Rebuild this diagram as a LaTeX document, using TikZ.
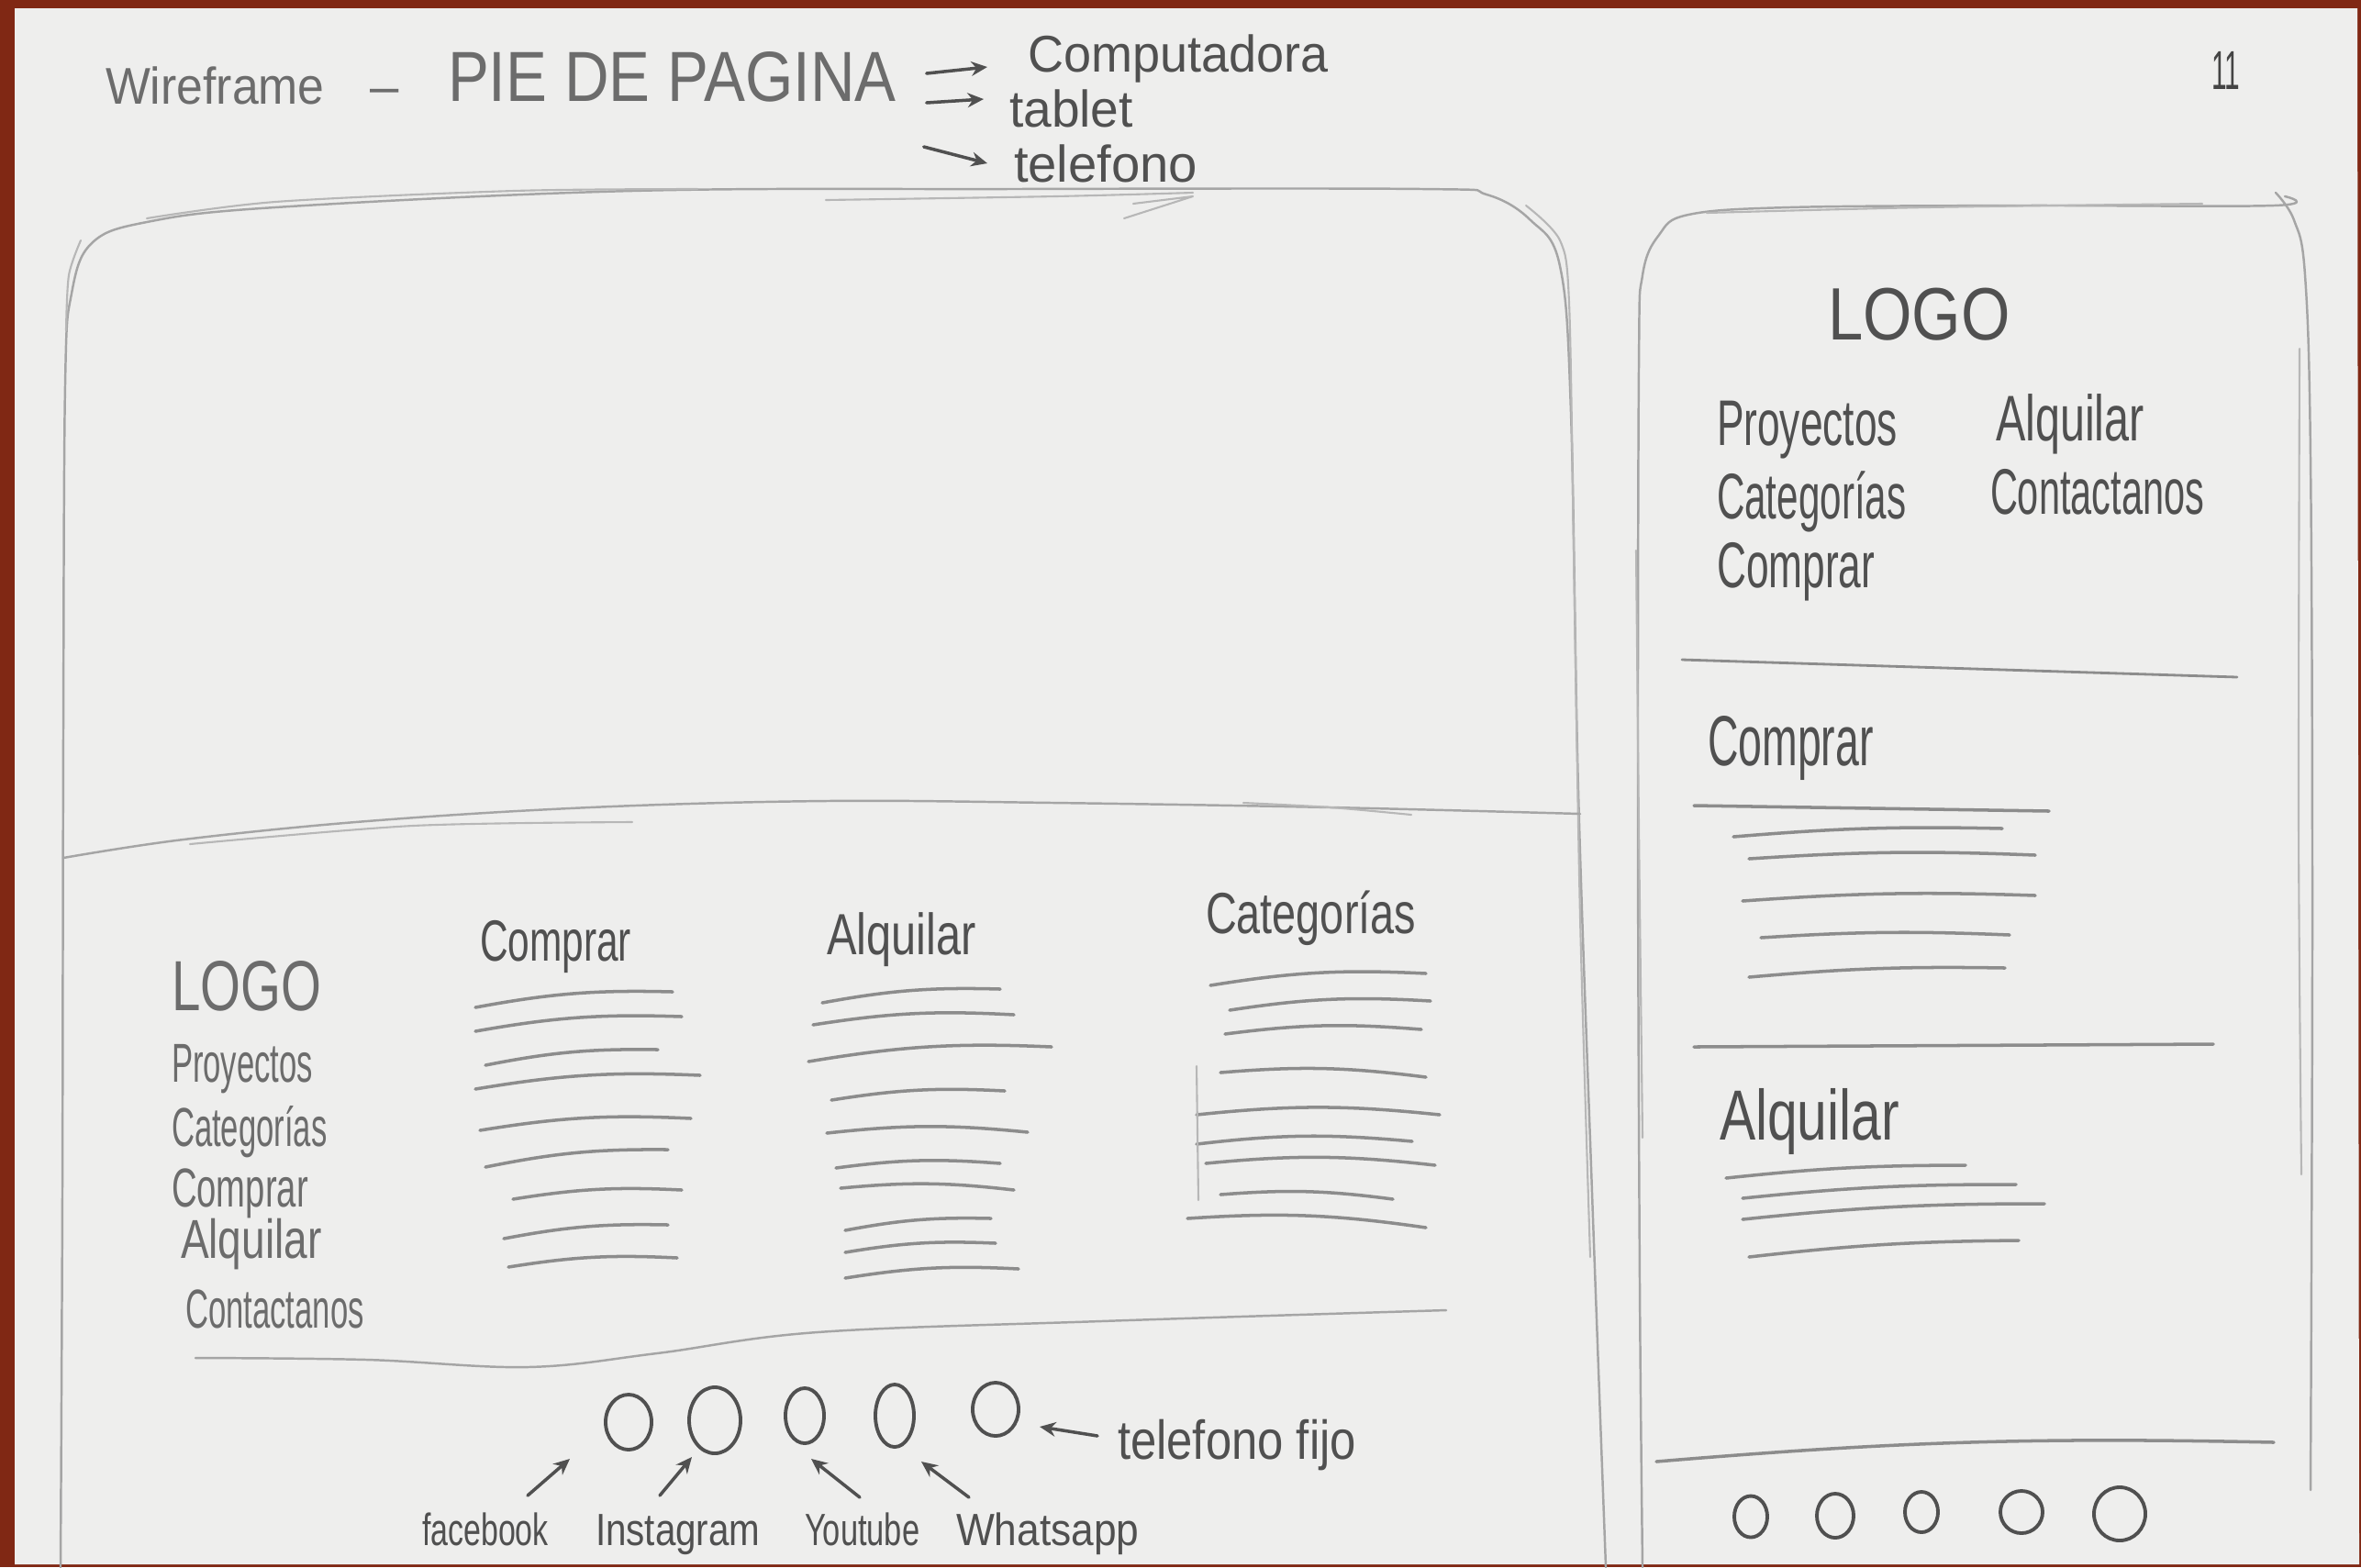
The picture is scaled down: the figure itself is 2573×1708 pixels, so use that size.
\documentclass[tikz,border=0pt]{standalone}
\usepackage{fontspec}
\usepackage{graphicx}
\setmainfont{Liberation Sans}
\usetikzlibrary{arrows.meta,shapes.geometric,calc}
\definecolor{paper}{RGB}{238,238,237}
\definecolor{desk}{RGB}{128,40,20}
\definecolor{ink}{RGB}{80,80,80}
\definecolor{inklight}{RGB}{108,108,108}
\definecolor{rulegray}{RGB}{140,140,140}
\definecolor{framegray}{RGB}{165,165,165}
\newcommand\fs[1]{\fontsize{#1}{#1}\selectfont}
\newcommand\hw[2]{\scalebox{#1}[1]{#2}}
\begin{document}
\begin{tikzpicture}[x=0.01cm,y=-0.01cm,
  hand/.style={inner sep=0pt, outer sep=0pt, anchor=base west, text=ink},
  outline/.style={draw=framegray, line width=0.7pt, line cap=round, line join=round},
  faint/.style={draw=framegray!75!paper, line width=0.6pt, line cap=round, line join=round},
  rulestroke/.style={draw=rulegray, line width=1pt, line cap=round},
  bubble/.style={ellipse, draw=ink, line width=1.1pt, inner sep=0pt},
  arr/.style={draw=ink, line width=1pt, line cap=round, -{Stealth[length=5pt,width=4.5pt]}},
]
% desk and sheet
\fill[desk] (0,0) rectangle (2573,1708);
\fill[paper] (16,9) -- (2569,9) -- (2571,1705) -- (16,1705) -- cycle;
\useasboundingbox (0,0) rectangle (2573,1708);

% ---------- heading ----------
\node[hand, text=inklight, font=\fs{16}] (wf) at (115,113) {\hw{0.92}{Wireframe}};
\node[hand, text=inklight, font=\fs{16}] (dash) at (403,113) {–};
\node[hand, text=inklight, font=\fs{22}] (pie) at (488,110) {\hw{0.87}{PIE DE PAGINA}};
\node[hand, font=\fs{16}] (comp) at (1120,78) {\hw{0.96}{Computadora}};
\node[hand, font=\fs{16}] (tab) at (1100,138) {\hw{0.98}{tablet}};
\node[hand, font=\fs{16}] (tel) at (1105,198) {\hw{1.0}{telefono}};
\node[hand, text=ink!85!black, font=\fs{17}] (pg) at (2410,97) {\hw{0.5}{11}};
\draw[arr] ([shift={(33,-30)}]pie.base east) -- ([shift={(-44,-5)}]comp.base west);
\draw[arr] ([shift={(33,2)}]pie.base east) -- ([shift={(-28,-30)}]tab.base west);
\draw[arr] ([shift={(30,50)}]pie.base east) -- ([shift={(-29,-20)}]tel.base west);

% ---------- desktop frame ----------
\draw[outline] plot[smooth, tension=0.6] coordinates {(66,1708) (68,1300) (69,800) (71,420) (78,320) (100,265) (160,242) (300,226) (689,208) (1100,206) (1550,206) (1620,212) (1668,240) (1700,290) (1712,450) (1720,862) (1735,1300) (1750,1708)};
\draw[faint] plot[smooth] coordinates {(88,262) (75,300) (72,360)};
\draw[faint] plot[smooth] coordinates {(160,238) (300,220) (560,208) (760,206)};
\draw[faint] plot[smooth] coordinates {(900,218) (1150,214) (1300,210)};
\draw[faint] (1225,238) -- (1300,214) -- (1235,222);
\draw[faint] plot[smooth] coordinates {(1663,224) (1700,262) (1710,330) (1715,600) (1722,1000) (1733,1370)};
% hero / footer split
\draw[outline] plot[smooth, tension=0.6] coordinates {(69,935) (200,915) (400,895) (643,880) (900,873) (1148,875) (1450,880) (1722,887)};
\draw[faint] plot[smooth] coordinates {(207,920) (450,900) (689,896)};
\draw[faint] plot[smooth] coordinates {(1355,875) (1450,880) (1538,888)};
% footer bottom edge
\draw[outline] plot[smooth, tension=0.6] coordinates {(213,1480) (400,1482) (575,1490) (716,1475) (891,1452) (1200,1440) (1576,1428)};

% footer brand column
\node[hand, text=inklight, font=\fs{22}] (logoA) at (187,1101) {\hw{0.73}{LOGO}};
\node[hand, text=inklight, font=\fs{17}] (proyA) at (187,1179) {\hw{0.58}{Proyectos}};
\node[hand, text=inklight, font=\fs{17}] (catA) at (187,1249) {\hw{0.58}{Categorías}};
\node[hand, text=inklight, font=\fs{17}] (compA) at (187,1315) {\hw{0.64}{Comprar}};
\node[hand, text=inklight, font=\fs{17}] (alqA) at (197,1371) {\hw{0.77}{Alquilar}};
\node[hand, text=inklight, font=\fs{17}] (contA) at (202,1447) {\hw{0.58}{Contactanos}};

% footer link columns
\node[hand, font=\fs{18}] (hComp) at (523,1047) {\hw{0.67}{Comprar}};
\node[hand, font=\fs{18}] (hAlq) at (901,1040) {\hw{0.77}{Alquilar}};
\node[hand, font=\fs{18}] (hCat) at (1314,1017) {\hw{0.74}{Categorías}};
\foreach \a/\b/\c/\d in {518/1098/733/1081, 518/1124/743/1108, 529/1161/717/1144, 518/1187/763/1172,
  523/1232/753/1219, 529/1272/728/1253, 559/1307/743/1297, 549/1350/728/1335, 554/1381/738/1371,
  896/1093/1090/1078, 886/1117/1105/1106, 881/1157/1146/1141, 906/1199/1095/1189, 901/1235/1120/1234,
  911/1273/1090/1268, 916/1295/1105/1297, 921/1341/1080/1328, 921/1365/1085/1355, 921/1393/1110/1383,
  1319/1074/1554/1061, 1340/1101/1559/1091, 1335/1127/1549/1122, 1330/1169/1554/1174, 1304/1215/1569/1215,
  1304/1247/1539/1244, 1314/1268/1564/1270, 1330/1302/1518/1307, 1294/1328/1554/1338}
  \draw[rulestroke] (\a,\b) to[bend left=6] (\c,\d);
\draw[faint] (1304,1162) -- (1306,1308);

% social icons
\node[bubble, minimum width=0.50cm, minimum height=0.60cm] (c1) at (685,1550) {};
\node[bubble, minimum width=0.56cm, minimum height=0.72cm] (c2) at (779,1548) {};
\node[bubble, minimum width=0.42cm, minimum height=0.60cm] (c3) at (877,1543) {};
\node[bubble, minimum width=0.42cm, minimum height=0.68cm] (c4) at (975,1543) {};
\node[bubble, minimum width=0.50cm, minimum height=0.58cm] (c5) at (1085,1536) {};
\node[hand, font=\fs{14}] (fb) at (460,1684) {\hw{0.69}{facebook}};
\node[hand, font=\fs{14}] (ig) at (649,1684) {\hw{0.82}{Instagram}};
\node[hand, font=\fs{14}] (yt) at (877,1684) {\hw{0.70}{Youtube}};
\node[hand, font=\fs{14}] (wa) at (1042,1684) {\hw{0.90}{Whatsapp}};
\node[hand, font=\fs{17}] (tf) at (1218,1590) {\hw{0.85}{telefono fijo}};
\draw[arr] ([shift={(115,-54)}]fb.base west) -- ([shift={(-64,40)}]c1.center);
\draw[arr] ([shift={(70,-54)}]ig.base west) -- ([shift={(-25,40)}]c2.center);
\draw[arr] ([shift={(60,-52)}]yt.base west) -- ([shift={(7,47)}]c3.center);
\draw[arr] ([shift={(14,-52)}]wa.base west) -- ([shift={(29,50)}]c4.center);
\draw[arr] ([shift={(-22,-25)}]tf.base west) -- ([shift={(48,19)}]c5.center);

% ---------- phone frame ----------
\draw[outline] plot[smooth, tension=0.6] coordinates {(1790,1708) (1787,1400) (1785,900) (1786,400) (1790,300) (1808,256) (1840,234) (1950,226) (2200,224) (2478,224) (2490,214)};
\draw[outline] plot[smooth, tension=0.6] coordinates {(2480,210) (2500,240) (2512,300) (2518,500) (2520,1000) (2518,1624)};
\draw[faint] plot[smooth] coordinates {(2506,380) (2505,900) (2508,1280)};
\draw[faint] plot[smooth] coordinates {(1783,600) (1786,900) (1790,1240)};
\draw[faint] plot[smooth] coordinates {(1860,232) (2100,226) (2400,222)};

\node[hand, font=\fs{23}] (logoB) at (1992,370) {\hw{0.85}{LOGO}};
\node[hand, font=\fs{20}] (proyB) at (1871,485) {\hw{0.63}{Proyectos}};
\node[hand, font=\fs{20}] (alqB) at (2175,480) {\hw{0.69}{Alquilar}};
\node[hand, font=\fs{20}] (catB) at (1871,565) {\hw{0.6}{Categorías}};
\node[hand, font=\fs{20}] (contB) at (2169,560) {\hw{0.59}{Contactanos}};
\node[hand, font=\fs{20}] (compB) at (1871,640) {\hw{0.63}{Comprar}};
\draw[rulestroke, line width=0.8pt] (1833,719) -- (2438,738);

\node[hand, font=\fs{22}] (hCompB) at (1861,834) {\hw{0.6}{Comprar}};
\draw[rulestroke] (1846,878) -- (2233,884);
\foreach \a/\b/\c/\d in {1889/912/2182/903, 1906/936/2218/932, 1899/982/2218/976, 1919/1022/2190/1019, 1906/1065/2185/1055,
  1881/1284/2142/1270, 1899/1306/2197/1291, 1899/1329/2228/1312, 1906/1370/2200/1352}
  \draw[rulestroke] (\a,\b) to[bend left=3] (\c,\d);
\draw[rulestroke] (1846,1141) -- (2412,1138);
\node[hand, font=\fs{22}] (hAlqB) at (1874,1242) {\hw{0.76}{Alquilar}};
\draw[rulestroke] (1805,1593) to[bend left=3] (2478,1572);

\node[bubble, minimum width=0.36cm, minimum height=0.45cm] (p1) at (1908,1653) {};
\node[bubble, minimum width=0.40cm, minimum height=0.48cm] (p2) at (2000,1652) {};
\node[bubble, minimum width=0.36cm, minimum height=0.44cm] (p3) at (2094,1648) {};
\node[bubble, minimum width=0.46cm, minimum height=0.46cm] (p4) at (2203,1648) {};
\node[bubble, minimum width=0.56cm, minimum height=0.58cm] (p5) at (2310,1650) {};
\end{tikzpicture}
\end{document}
